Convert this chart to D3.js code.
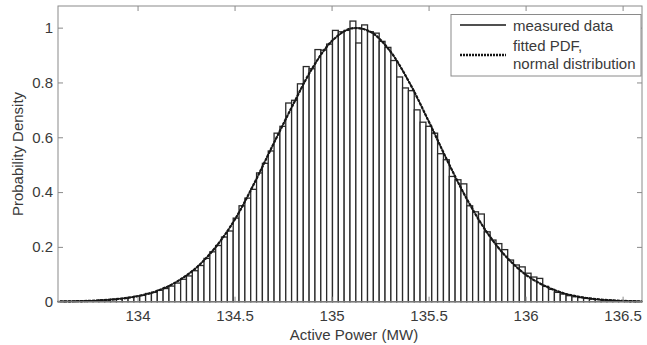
<!DOCTYPE html>
<html>
<head>
<meta charset="utf-8">
<script src="https://cdn.jsdelivr.net/npm/d3@7"></script>
<style>
  body { margin: 0; background: #fff; }
  text { font-family: "Liberation Sans", Arial, sans-serif; fill: #3a3a3a; }
</style>
</head>
<body>
<svg id="chart" width="647" height="345"></svg>
<script>
// histogram: 100 bins starting at binLo, each binW wide
var binLo = 133.59;
var binW = 0.0301;
var density = [
  0.0008, 0.001, 0.0015, 0.002, 0.0025, 0.003, 0.004, 0.006, 0.006, 0.009,
  0.011, 0.012, 0.016, 0.02, 0.023, 0.03, 0.034, 0.042, 0.048, 0.057,
  0.068, 0.082, 0.094, 0.113, 0.132, 0.158, 0.182, 0.205, 0.236, 0.258,
  0.305, 0.35, 0.378, 0.41, 0.47, 0.505, 0.55, 0.615, 0.64, 0.725,
  0.735, 0.795, 0.858, 0.85, 0.92, 0.918, 0.94, 0.99, 0.985, 0.99,
  1.024, 0.944, 1.01, 0.985, 0.98, 0.95, 0.928, 0.88, 0.82, 0.78,
  0.77, 0.70, 0.655, 0.64, 0.615, 0.54, 0.518, 0.457, 0.445, 0.43,
  0.35, 0.328, 0.32, 0.255, 0.225, 0.212, 0.19, 0.152, 0.134, 0.127,
  0.104, 0.09, 0.085, 0.056, 0.045, 0.034, 0.028, 0.022, 0.018, 0.015,
  0.012, 0.01, 0.008, 0.006, 0.005, 0.004, 0.003, 0.002, 0.002, 0.001
];

// fitted normal PDF
var fitX = [133.6, 133.7, 133.8, 133.9, 134.0, 134.1, 134.2, 134.3, 134.4, 134.5,
            134.6, 134.7, 134.8, 134.9, 135.0, 135.1, 135.2, 135.3, 135.4, 135.5,
            135.6, 135.7, 135.8, 135.9, 136.0, 136.1, 136.2, 136.3, 136.4, 136.5, 136.6];
var fitY = [0.001, 0.002, 0.0045, 0.01, 0.02, 0.039, 0.072, 0.122, 0.197, 0.298,
            0.43, 0.575, 0.717, 0.851, 0.95, 0.997, 0.985, 0.916, 0.801, 0.659,
            0.51, 0.371, 0.254, 0.164, 0.099, 0.057, 0.030, 0.015, 0.007, 0.003, 0.001];

var xTicks = [134, 134.5, 135, 135.5, 136, 136.5];
var yTicks = [0, 0.2, 0.4, 0.6, 0.8, 1];
var legendLabels = ["measured data", "fitted PDF,", "normal distribution"];

var svg = d3.select("#chart");
var plotL = 58, plotR = 642, plotT = 6, plotB = 301.7;

var x = d3.scaleLinear().domain([133.59, 136.6]).range([plotL, plotR]);
var y = d3.scaleLinear().domain([0, 1.079]).range([plotB, plotT]);

// bars
svg.append("g")
  .selectAll("rect")
  .data(density)
  .enter()
  .append("rect")
    .attr("x", function(d, i) { return x(binLo + i * binW); })
    .attr("width", function(d, i) { return x(binLo + (i + 1) * binW) - x(binLo + i * binW); })
    .attr("y", function(d) { return y(d); })
    .attr("height", function(d) { return y(0) - y(d); })
    .attr("fill", "#fff")
    .attr("stroke", "#2a2a2a")
    .attr("stroke-width", 1.3);

// fitted curve
var line = d3.line()
  .x(function(d) { return x(d[0]); })
  .y(function(d) { return y(d[1]); })
  .curve(d3.curveCatmullRom);
var pts = fitX.map(function(v, i) { return [v, fitY[i]]; });

svg.append("path").datum(pts)
  .attr("d", line).attr("fill", "none")
  .attr("stroke", "#161616").attr("stroke-width", 1.2);
svg.append("path").datum(pts)
  .attr("d", line).attr("fill", "none")
  .attr("stroke", "#161616").attr("stroke-width", 2.2)
  .attr("stroke-dasharray", "3,1");

// frame
svg.append("rect")
  .attr("x", plotL).attr("y", plotT)
  .attr("width", plotR - plotL).attr("height", plotB - plotT)
  .attr("fill", "none").attr("stroke", "#8a8a8a").attr("stroke-width", 1);

// axes, ticks point inward
var gx = svg.append("g").attr("transform", "translate(0," + plotB + ")")
  .call(d3.axisBottom(x).tickValues(xTicks).tickSize(-5).tickPadding(9)
        .tickFormat(d3.format("")));
var gy = svg.append("g").attr("transform", "translate(" + plotL + ",0)")
  .call(d3.axisLeft(y).tickValues(yTicks).tickSize(-5).tickPadding(5)
        .tickFormat(d3.format("")));
var gt = svg.append("g").attr("transform", "translate(0," + plotT + ")")
  .call(d3.axisTop(x).tickValues(xTicks).tickSize(-5).tickFormat(""));
var gr = svg.append("g").attr("transform", "translate(" + plotR + ",0)")
  .call(d3.axisRight(y).tickValues(yTicks).tickSize(-5).tickFormat(""));

[gx, gy, gt, gr].forEach(function(g) {
  g.select(".domain").remove();
  g.selectAll(".tick line").attr("stroke", "#8a8a8a");
  g.selectAll(".tick text")
    .style("font-family", "'Liberation Sans', Arial, sans-serif")
    .style("font-size", "15px")
    .attr("fill", "#3a3a3a");
});

// axis titles
svg.append("text")
  .attr("x", 354).attr("y", 340)
  .attr("text-anchor", "middle")
  .style("font-size", "15px")
  .text("Active Power (MW)");

svg.append("text")
  .attr("transform", "translate(23,154) rotate(-90)")
  .attr("text-anchor", "middle")
  .style("font-size", "15px")
  .text("Probability Density");

// legend
var lg = svg.append("g");
lg.append("rect")
  .attr("x", 451).attr("y", 14.5).attr("width", 190).attr("height", 61.5)
  .attr("fill", "#fff").attr("stroke", "#8a8a8a").attr("stroke-width", 1);
lg.append("line")
  .attr("x1", 460).attr("x2", 506).attr("y1", 25).attr("y2", 25)
  .attr("stroke", "#161616").attr("stroke-width", 1.5);
lg.append("line")
  .attr("x1", 460).attr("x2", 506).attr("y1", 55).attr("y2", 55)
  .attr("stroke", "#161616").attr("stroke-width", 2.4)
  .attr("stroke-dasharray", "2,1");
lg.selectAll("text.lab")
  .data(legendLabels)
  .enter()
  .append("text")
    .attr("class", "lab")
    .attr("x", 513)
    .attr("y", function(d, i) { return [31, 50.5, 68.5][i]; })
    .style("font-size", "15px")
    .text(function(d) { return d; });
</script>
</body>
</html>
